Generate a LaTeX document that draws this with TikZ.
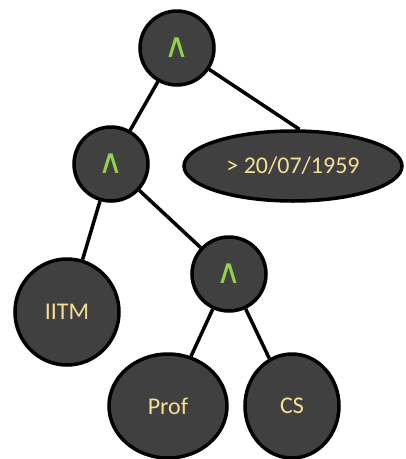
\documentclass[tikz,border=0pt]{standalone}
\usepackage{fontspec}
\setmainfont{Carlito}
\newfontfamily\symfont{DejaVu Sans}
\usepackage{tikz}
\usetikzlibrary{shapes.geometric}
\definecolor{nodegray}{HTML}{404040}
\definecolor{andgreen}{HTML}{92D050}
\definecolor{labelgold}{HTML}{F7DE95}

\begin{document}
\begin{tikzpicture}[x=1pt, y=-1pt,
    node style/.style={ellipse, draw=black, line width=3.5pt, fill=nodegray, inner sep=0pt, text=labelgold, font=\fontsize{24}{28}\selectfont},
    and style/.style={node style, circle, minimum size=74pt, text=andgreen, font=\symfont\fontsize{34}{36}\selectfont},
    edge style/.style={draw=black, line width=3.5pt}
]
\useasboundingbox (0,0) rectangle (406,459);
% operators
\node[and style] (and1) at (177,48) {∧};
\node[and style] (and2) at (111,164) {∧};
\node[and style] (and3) at (229,274) {∧};
% operands
\node[node style, minimum width=218pt, minimum height=70pt] (date) at (293,166) {> 20/07/1959};
\node[node style, minimum width=104pt, minimum height=106pt] (iitm) at (67,312) {IITM};
\node[node style, minimum width=118pt, minimum height=104pt] (prof) at (168,406) {Prof};
\node[node style, minimum width=94pt, minimum height=104pt] (cs) at (292,406) {CS};
% edges
\path[edge style] (and1) -- (and2);
\path[edge style] (and1) -- (date.80);
\path[edge style] (and2) -- (iitm);
\path[edge style] (and2) -- (and3);
\path[edge style] (and3) -- (prof);
\path[edge style] (and3) -- (cs);
\end{tikzpicture}
\end{document}
